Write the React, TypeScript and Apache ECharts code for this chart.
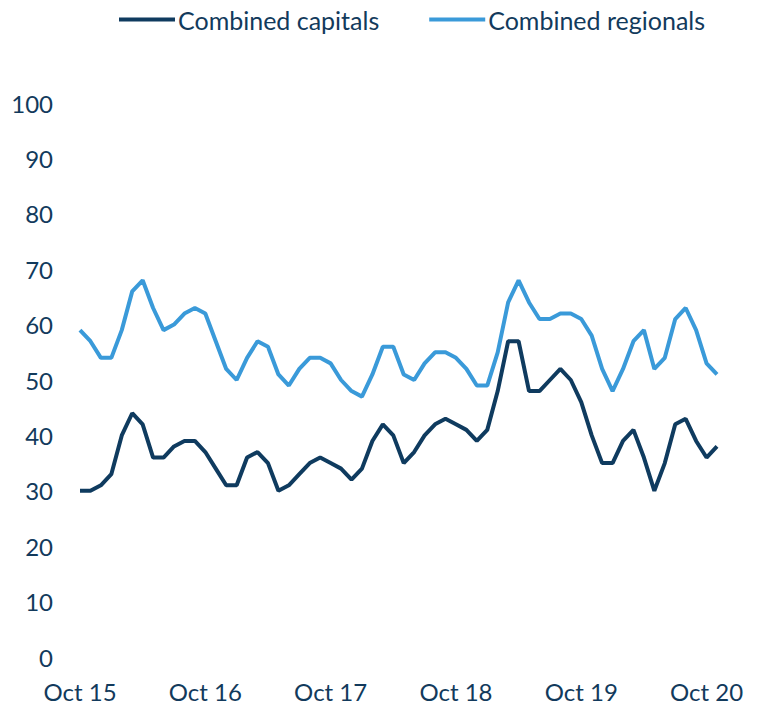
import React, { useEffect, useRef } from "react";
import * as echarts from "echarts";

const categories = [
  "Oct 15","Nov 15","Dec 15","Jan 16","Feb 16","Mar 16","Apr 16","May 16","Jun 16","Jul 16","Aug 16","Sep 16",
  "Oct 16","Nov 16","Dec 16","Jan 17","Feb 17","Mar 17","Apr 17","May 17","Jun 17","Jul 17","Aug 17","Sep 17",
  "Oct 17","Nov 17","Dec 17","Jan 18","Feb 18","Mar 18","Apr 18","May 18","Jun 18","Jul 18","Aug 18","Sep 18",
  "Oct 18","Nov 18","Dec 18","Jan 19","Feb 19","Mar 19","Apr 19","May 19","Jun 19","Jul 19","Aug 19","Sep 19",
  "Oct 19","Nov 19","Dec 19","Jan 20","Feb 20","Mar 20","Apr 20","May 20","Jun 20","Jul 20","Aug 20","Sep 20",
  "Oct 20","Nov 20",
];

const combinedCapitals = [
  30, 30, 31, 33, 40, 44, 42, 36, 36, 38, 39, 39,
  37, 34, 31, 31, 36, 37, 35, 30, 31, 33, 35, 36,
  35, 34, 32, 34, 39, 42, 40, 35, 37, 40, 42, 43,
  42, 41, 39, 41, 48, 57, 57, 48, 48, 50, 52, 50,
  46, 40, 35, 35, 39, 41, 36, 30, 35, 42, 43, 39,
  36, 38,
];

const combinedRegionals = [
  59, 57, 54, 54, 59, 66, 68, 63, 59, 60, 62, 63,
  62, 57, 52, 50, 54, 57, 56, 51, 49, 52, 54, 54,
  53, 50, 48, 47, 51, 56, 56, 51, 50, 53, 55, 55,
  54, 52, 49, 49, 55, 64, 68, 64, 61, 61, 62, 62,
  61, 58, 52, 48, 52, 57, 59, 52, 54, 61, 63, 59,
  53, 51,
];

const seriesNames = ["Combined capitals", "Combined regionals"];

const DARK = "#0f3b5f";
const LIGHT = "#3a9ad9";
const TEXT = "#123a5c";
const FONT = "Lato";

export default function App() {
  const ref = useRef<HTMLDivElement>(null);
  useEffect(() => {
    document.body.style.margin = "0";
    const chart = echarts.init(ref.current!, null, { renderer: "svg" });
    chart.setOption({
      animation: false,
      backgroundColor: "#ffffff",
      legend: {
        top: 2,
        left: 114,
        itemWidth: 56,
        itemHeight: 4,
        itemGap: 50,
        icon: "rect",
        textStyle: { color: TEXT, fontSize: 25, fontFamily: FONT, padding: [0, 0, 0, -2] },
        data: seriesNames,
      },
      grid: { left: 80, right: 41, top: 103, bottom: 49 },
      xAxis: {
        type: "category",
        data: categories,
        boundaryGap: false,
        axisLine: { show: false },
        axisTick: { show: false },
        splitLine: { show: false },
        axisLabel: {
          interval: (idx: number) => idx % 12 === 0,
          color: TEXT,
          fontSize: 24,
          fontFamily: FONT,
          margin: 22,
        },
      },
      yAxis: {
        type: "value",
        min: 0,
        max: 100,
        interval: 10,
        axisLine: { show: false },
        axisTick: { show: false },
        splitLine: { show: false },
        axisLabel: { color: TEXT, fontSize: 24, fontFamily: FONT, margin: 27 },
      },
      series: [
        {
          name: seriesNames[0],
          type: "line",
          data: combinedCapitals,
          showSymbol: false,
          symbol: "none",
          lineStyle: { color: DARK, width: 4 },
          itemStyle: { color: DARK },
        },
        {
          name: seriesNames[1],
          type: "line",
          data: combinedRegionals,
          showSymbol: false,
          symbol: "none",
          lineStyle: { color: LIGHT, width: 4 },
          itemStyle: { color: LIGHT },
        },
      ],
    });
    return () => chart.dispose();
  }, []);
  return <div ref={ref} style={{ width: 758, height: 706 }} />;
}
